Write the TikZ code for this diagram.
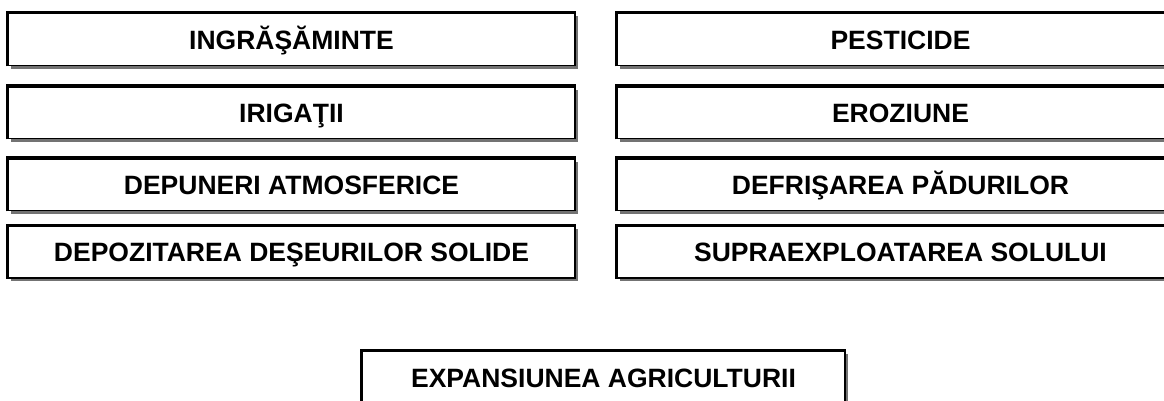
\documentclass[tikz,border=0pt]{standalone}
\usepackage{fontspec}
\setmainfont{Liberation Sans}
\usetikzlibrary{shadows}

\begin{document}
\begin{tikzpicture}[%
  x=1pt,y=1pt,
  factor/.style={rectangle,draw,line width=1.5pt,fill=white,
    minimum width=567pt,minimum height=52pt,inner sep=0pt,
    text height=19pt,text depth=0pt,
    font=\fontsize{26.5}{30}\selectfont\bfseries,
    drop shadow={shadow xshift=3pt,shadow yshift=-3pt,fill=black!55,opacity=1}},
  wide/.style={minimum width=483pt,minimum height=54pt}]
    \useasboundingbox (0,0) rectangle (1164,400);
    % Left column
    \node[factor] (ingr)   at (291.5,360.5) {INGRĂŞĂMINTE};
    \node[factor] (irig)   at (291.5,287.5) {IRIGAŢII};
    \node[factor] (depun)  at (291.5,215.5) {DEPUNERI ATMOSFERICE};
    \node[factor] (depoz)  at (291.5,148)   {DEPOZITAREA DEŞEURILOR SOLIDE};
    % Right column
    \node[factor] (pest)   at (900.5,360.5) {PESTICIDE};
    \node[factor] (eroz)   at (900.5,287.5) {EROZIUNE};
    \node[factor] (defris) at (900.5,215.5) {DEFRIŞAREA PĂDURILOR};
    \node[factor] (supra)  at (900.5,148)   {SUPRAEXPLOATAREA SOLULUI};
    % Bottom
    \node[factor,wide] (expans) at (603.5,22) {EXPANSIUNEA AGRICULTURII};
    % Heavy top and left edges
    \foreach \n in {ingr,irig,depun,depoz,pest,eroz,defris,supra,expans}
      \draw[line width=3.5pt] (\n.south west) -- (\n.north west) -- (\n.north east);
\end{tikzpicture}
\end{document}
